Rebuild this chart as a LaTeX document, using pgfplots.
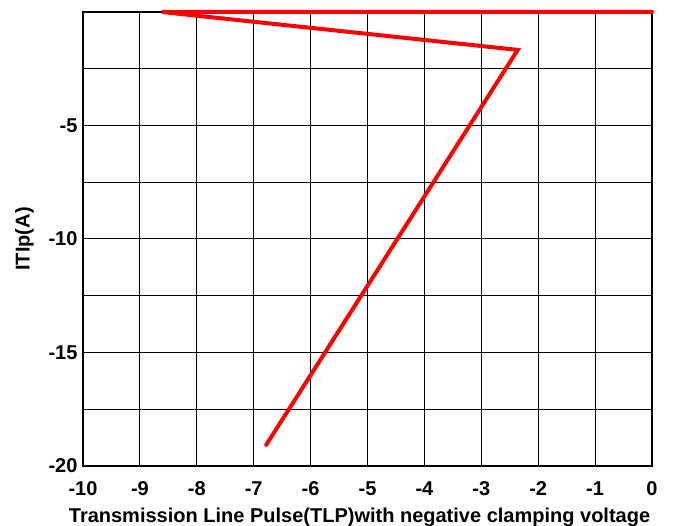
\documentclass[border=0pt]{standalone}
\usepackage{pgfplots}
\pgfplotsset{compat=1.18}
\usepackage{fontspec}
\setmainfont{Liberation Sans}
\begin{document}
\begin{tikzpicture}[x=1bp,y=1bp]
\useasboundingbox (-83,-60) rectangle (591,466);
\begin{axis}[
  at={(0,0)}, anchor=south west,
  scale only axis,
  width=569bp, height=454bp,
  xmin=-10, xmax=0, ymin=-20, ymax=0,
  xtick={-10,-9,...,0},
  xticklabels={-10,-9,-8,-7,-6,-5,-4,-3,-2,-1,0},
  ytick={-20,-17.5,-15,-12.5,-10,-7.5,-5,-2.5,0},
  yticklabels={-20,,-15,,-10,,-5,,},
  major tick length=0pt,
  grid=major,
  grid style={black, line width=1bp},
  axis line style={black, line width=1.3bp},
  tick label style={font=\fontsize{20bp}{22bp}\selectfont\bfseries},
  xticklabel style={yshift=-12bp},
  yticklabel style={xshift=-2bp},
  label style={font=\fontsize{20bp}{22bp}\selectfont\bfseries},
  xlabel={Transmission Line Pulse(TLP)with negative clamping voltage},
  ylabel={ITIp(A)},
  xlabel style={yshift=-5bp, xshift=-8bp},
  ylabel style={yshift=8bp},
  clip=false,
]
\addplot[red, line width=4bp, line join=miter, line cap=round] coordinates {
  (0,0) (-8.61,0) (-2.36,-1.67) (-6.78,-19.07)
};
\end{axis}
\end{tikzpicture}
\end{document}
